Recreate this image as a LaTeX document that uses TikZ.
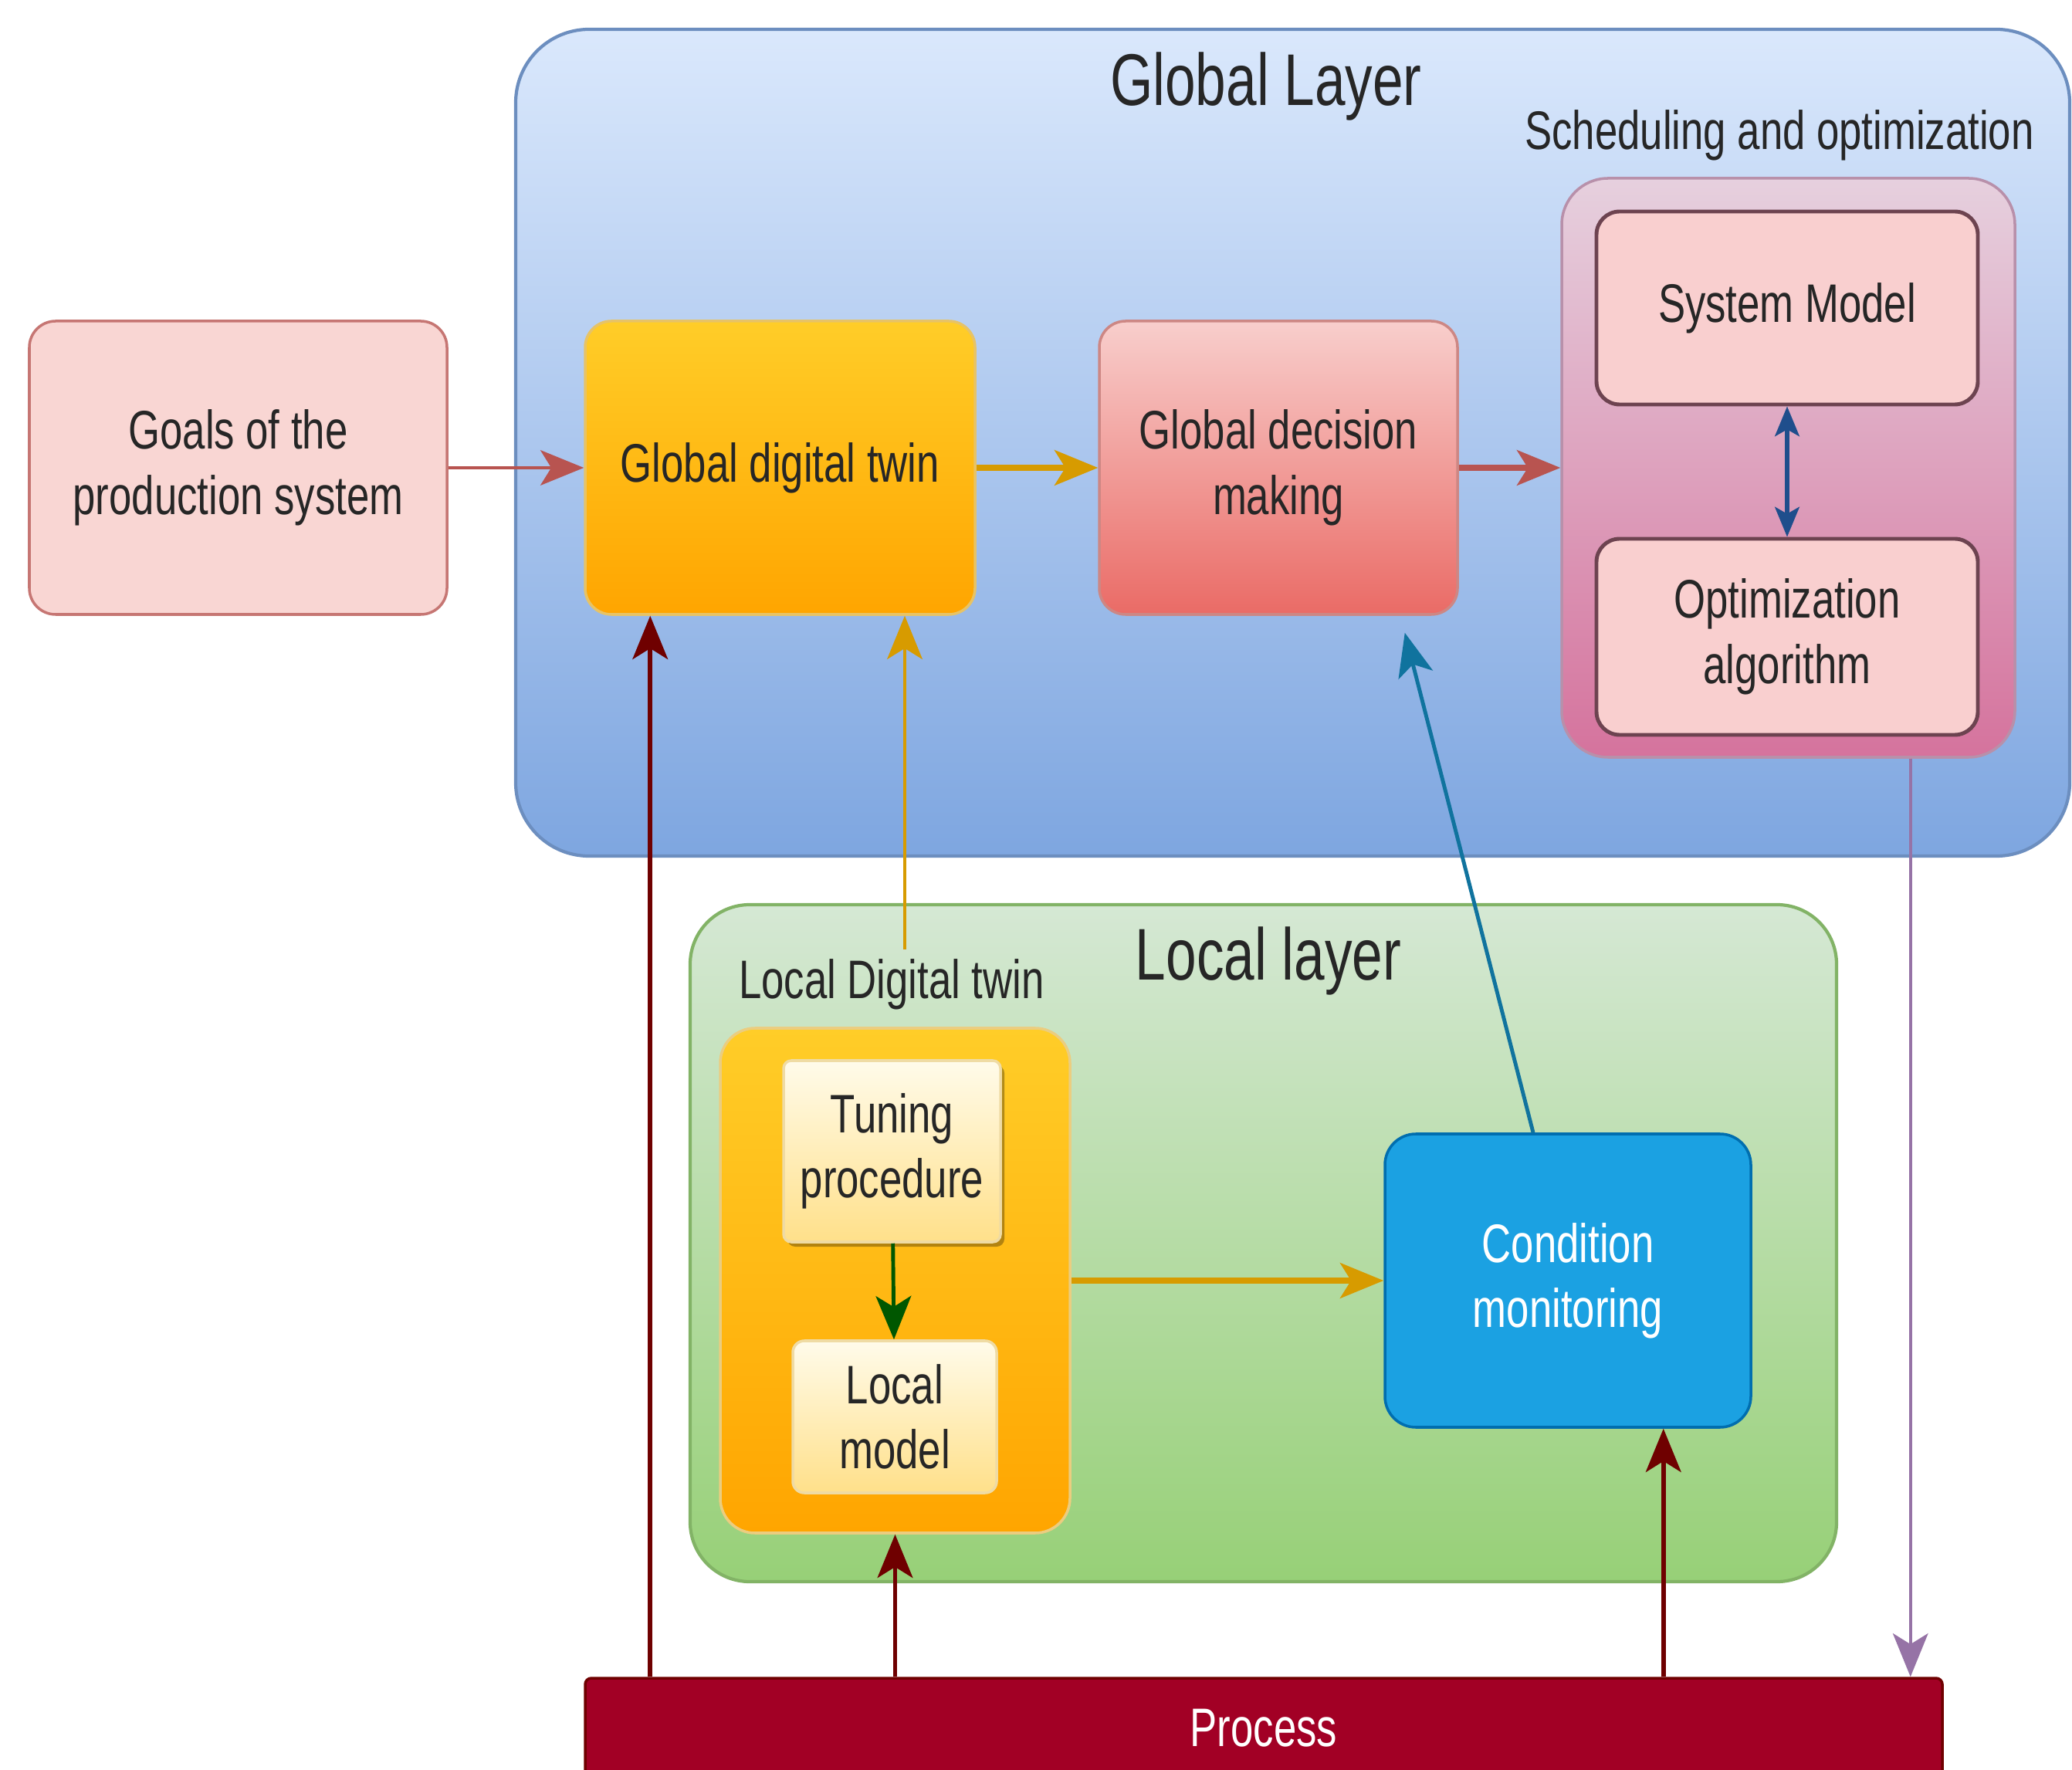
\documentclass[tikz,border=0pt]{standalone}
\usepackage{fontspec}
\setmainfont{Liberation Sans}[FakeStretch=0.75]
\usetikzlibrary{arrows.meta,shadows}

\tikzset{
  layer/.style={rectangle, draw, line width=1.2pt},
  box/.style={rectangle, draw, line width=1pt, align=center, inner sep=0pt, text=black!85, font=\fontsize{20}{24}\selectfont},
  toptext/.style={font=\fontsize{27}{32}\selectfont, text=black!85},
  sublbl/.style={font=\fontsize{20}{24}\selectfont, text=black!85},
  arr/.style={-{Stealth[length=16pt, width=13pt, inset=4pt]}, line width=#1},
  duo/.style={{Stealth[length=11pt, width=9pt, inset=2.5pt]}-{Stealth[length=11pt, width=9pt, inset=2.5pt]}, line width=1.6pt},
  softshadow/.style={drop shadow={shadow xshift=0.05cm, shadow yshift=-0.06cm, fill=black, opacity=0.3}},
}

\begin{document}
\begin{tikzpicture}
\definecolor{glbtop}{HTML}{DAE8FC}
\definecolor{glbbot}{HTML}{7EA6E0}
\definecolor{glbline}{HTML}{6C8EBF}
\definecolor{loctop}{HTML}{D5E8D4}
\definecolor{locbot}{HTML}{97D077}
\definecolor{locline}{HTML}{82B366}
\definecolor{orgtop}{HTML}{FFCD28}
\definecolor{orgbot}{HTML}{FFA500}
\definecolor{orgline}{HTML}{D79B00}
\definecolor{redtop}{HTML}{F8CECC}
\definecolor{redbot}{HTML}{EA6B66}
\definecolor{redline}{HTML}{B85450}
\definecolor{pnktop}{HTML}{E6D0DE}
\definecolor{pnkbot}{HTML}{D5739D}
\definecolor{pnkline}{HTML}{996185}
\definecolor{goalfill}{HTML}{F9D6D3}
\definecolor{subfill}{HTML}{F9CFCF}
\definecolor{subline}{HTML}{6D4350}
\definecolor{cretop}{HTML}{FFFBEA}
\definecolor{crebot}{HTML}{FFE08A}
\definecolor{creline}{HTML}{E0B84A}
\definecolor{cmfill}{HTML}{1BA1E2}
\definecolor{cmline}{HTML}{006EAF}
\definecolor{procfill}{HTML}{A20025}
\definecolor{procline}{HTML}{6F0000}
\definecolor{cmarrow}{HTML}{10739E}
\definecolor{schedarrow}{HTML}{9673A6}
\definecolor{duoarrow}{HTML}{1F4E8C}
\definecolor{tunearrow}{HTML}{005700}

\useasboundingbox (0,0) rectangle (26.84,-22.93);

% layers
\node[layer, top color=glbtop, bottom color=glbbot, draw=glbline, minimum width=20.13cm, minimum height=10.71cm, rounded corners=0.95cm] (glob) at (16.745,-5.735) {};
\node[layer, top color=loctop, bottom color=locbot, draw=locline, minimum width=14.85cm, minimum height=8.77cm, rounded corners=0.77cm] (loc) at (16.365,-16.105) {};
\node[toptext] (globlbl) at (16.40,-1.12) {Global Layer};
\node[toptext] (loclbl) at (16.43,-12.45) {Local layer};

% global layer
\node[box, fill=goalfill, draw=redline!80, minimum width=5.41cm, minimum height=3.80cm, rounded corners=0.34cm] (goals) at (3.085,-6.06) {Goals of the\\production system};
\node[box, top color=orgtop, bottom color=orgbot, draw=orgline!60, minimum width=5.05cm, minimum height=3.80cm, rounded corners=0.34cm] (gdt) at (10.105,-6.06) {Global digital twin};
\node[box, top color=redtop, bottom color=redbot, draw=redline!70, minimum width=4.64cm, minimum height=3.80cm, rounded corners=0.34cm] (gdm) at (16.56,-6.06) {Global decision\\making};
\node[sublbl] (schedlbl) at (23.05,-1.75) {Scheduling and optimization};
\node[box, top color=pnktop, bottom color=pnkbot, draw=pnkline!70, minimum width=5.87cm, minimum height=7.50cm, rounded corners=0.6cm] (sched) at (23.165,-6.06) {};
\node[box, fill=subfill, draw=subline, line width=1.4pt, minimum width=4.94cm, minimum height=2.50cm, rounded corners=0.3cm] (sysm) at (23.15,-3.99) {System Model};
\node[box, fill=subfill, draw=subline, line width=1.4pt, minimum width=4.94cm, minimum height=2.54cm, rounded corners=0.3cm] (optm) at (23.15,-8.25) {Optimization\\algorithm};

% local layer
\node[sublbl] (ldtlbl) at (11.55,-12.75) {Local Digital twin};
\node[box, top color=orgtop, bottom color=orgbot, draw=orgline!50, minimum width=4.53cm, minimum height=6.54cm, rounded corners=0.45cm] (ldt) at (11.595,-16.59) {};
\node[box, softshadow, top color=cretop, bottom color=crebot, draw=creline!50, minimum width=2.81cm, minimum height=2.35cm, rounded corners=0.1cm] (tune) at (11.555,-14.915) {Tuning\\procedure};
\node[box, top color=cretop, bottom color=crebot, draw=creline!50, minimum width=2.64cm, minimum height=1.97cm, rounded corners=0.15cm] (lmod) at (11.59,-18.355) {Local\\model};
\node[box, fill=cmfill, draw=cmline, text=white, minimum width=4.74cm, minimum height=3.80cm, rounded corners=0.4cm] (cm) at (20.31,-16.59) {Condition\\monitoring};

% process
\node[box, fill=procfill, draw=procline, text=white, minimum width=17.58cm, minimum height=1.30cm, rounded corners=0.08cm] (proc) at (16.37,-22.39) {Process};

\coordinate (gdtin) at ([xshift=0.86cm]gdt.south west);
\coordinate (ldtup) at ([xshift=0.17cm]ldtlbl.north);
\coordinate (cmin) at ([xshift=-1.15cm]cm.south east);
\coordinate (schedout) at ([xshift=-1.37cm]sched.south east);
\coordinate (cmout) at ([xshift=-0.45cm]cm.north);
\coordinate (gdmin) at ([xshift=-0.70cm, yshift=-0.22cm]gdm.south east);

% connectors
\draw[arr=1pt, redline] (goals) -- (gdt);
\draw[arr=2pt, orgline] (gdt) -- (gdm);
\draw[arr=2pt, redline] (gdm) -- (sched);
\draw[duo, duoarrow] (sysm) -- (optm);
\draw[arr=1.2pt, orgline] (ldtup) -- (ldtup |- gdt.south);
\draw[arr=2pt, orgline] (ldt) -- (cm);
\draw[arr=1.4pt, cmarrow] (cmout) -- (gdmin);
\draw[arr=1.4pt, tunearrow] (tune) -- (lmod);
\draw[arr=1.6pt, procline] (gdtin |- proc.north) -- (gdtin);
\draw[arr=1.6pt, procline] (proc.north -| ldt.south) -- (ldt.south);
\draw[arr=1.6pt, procline] (cmin |- proc.north) -- (cmin);
\draw[arr=1pt, schedarrow] (schedout) -- (schedout |- proc.north);
\end{tikzpicture}
\end{document}
